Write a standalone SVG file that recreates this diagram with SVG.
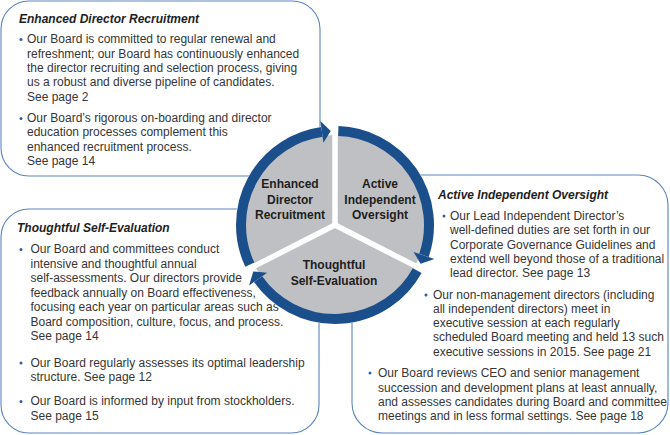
<svg xmlns="http://www.w3.org/2000/svg" width="670" height="435" viewBox="0 0 670 435">
<style>
.box{fill:#fff;stroke:#5a85bd;stroke-width:1.1}
.t{font-family:"Liberation Sans",Arial,sans-serif;font-size:12px;fill:#353535}
.h{font-family:"Liberation Sans",Arial,sans-serif;font-size:12px;font-weight:bold;font-style:italic;fill:#1e1e1e}
.c{font-family:"Liberation Sans",Arial,sans-serif;font-size:12px;font-weight:bold;fill:#1e1e1e;text-anchor:middle}
.b{fill:#2d5fa3}
.ring{fill:none;stroke:#1b4f8c;stroke-width:10}
.head{fill:#1b4f8c}
.gap{stroke:#fff;stroke-width:5.5;stroke-linecap:butt}
</style>
<rect width="670" height="435" fill="#fff"/>
<g id="box-recruitment">
<rect class="box" x="1" y="1" width="319" height="175" rx="28"/>
<text class="h" x="19" y="23">Enhanced Director Recruitment</text>
<circle class="b" cx="21" cy="39.5" r="1.5"/>
<text class="t" x="27" y="43">Our Board is committed to regular renewal and</text>
<text class="t" x="27" y="57.5">refreshment; our Board has continuously enhanced</text>
<text class="t" x="27" y="72">the director recruiting and selection process, giving</text>
<text class="t" x="27" y="86">us a robust and diverse pipeline of candidates.</text>
<text class="t" x="27" y="100.5">See page 2</text>
<circle class="b" cx="21" cy="118.5" r="1.5"/>
<text class="t" x="27" y="122">Our Board’s rigorous on-boarding and director</text>
<text class="t" x="27" y="136">education processes complement this</text>
<text class="t" x="27" y="150.5">enhanced recruitment process.</text>
<text class="t" x="27" y="165">See page 14</text>
</g>
<g id="box-evaluation">
<rect class="box" x="1" y="209" width="318" height="224" rx="28"/>
<text class="h" x="17" y="232">Thoughtful Self-Evaluation</text>
<circle class="b" cx="21" cy="249.5" r="1.5"/>
<text class="t" x="30.5" y="253">Our Board and committees conduct</text>
<text class="t" x="30.5" y="267.5">intensive and thoughtful annual</text>
<text class="t" x="30.5" y="282">self-assessments. Our directors provide</text>
<text class="t" x="30.5" y="296.5">feedback annually on Board effectiveness,</text>
<text class="t" x="30.5" y="311">focusing each year on particular areas such as</text>
<text class="t" x="30.5" y="325.5">Board composition, culture, focus, and process.</text>
<text class="t" x="30.5" y="340">See page 14</text>
<circle class="b" cx="21" cy="363" r="1.5"/>
<text class="t" x="30.5" y="366.5">Our Board regularly assesses its optimal leadership</text>
<text class="t" x="30.5" y="381">structure. See page 12</text>
<circle class="b" cx="21" cy="401.5" r="1.5"/>
<text class="t" x="30.5" y="405">Our Board is informed by input from stockholders.</text>
<text class="t" x="30.5" y="420">See page 15</text>
</g>
<g id="box-oversight">
<rect class="box" x="352" y="175" width="316" height="258" rx="30"/>
<text class="h" x="438" y="198.5">Active Independent Oversight</text>
<circle class="b" cx="444" cy="216" r="1.5"/>
<text class="t" x="450" y="219.5">Our Lead Independent Director’s</text>
<text class="t" x="450" y="234">well-defined duties are set forth in our</text>
<text class="t" x="450" y="248.5">Corporate Governance Guidelines and</text>
<text class="t" x="450" y="262.7">extend well beyond those of a traditional</text>
<text class="t" x="450" y="277">lead director. See page 13</text>
<circle class="b" cx="426" cy="295" r="1.5"/>
<text class="t" x="433" y="298.5">Our non-management directors (including</text>
<text class="t" x="433" y="312.7">all independent directors) meet in</text>
<text class="t" x="433" y="327">executive session at each regularly</text>
<text class="t" x="433" y="341">scheduled Board meeting and held 13 such</text>
<text class="t" x="433" y="355.7">executive sessions in 2015. See page 21</text>
<circle class="b" cx="370" cy="373" r="1.5"/>
<text class="t" x="378" y="376.7">Our Board reviews CEO and senior management</text>
<text class="t" x="378" y="391.5">succession and development plans at least annually,</text>
<text class="t" x="378" y="405.5">and assesses candidates during Board and committee</text>
<text class="t" x="378" y="419.5">meetings and in less formal settings. See page 18</text>
</g>
<g id="cycle">
<circle cx="335" cy="225" r="99.5" fill="#fff"/>
<circle cx="335" cy="225" r="90" fill="#bfc0c3"/>
<line class="gap" x1="335" y1="225" x2="335" y2="120"/>
<line class="gap" x1="335" y1="225" x2="429" y2="272.9"/>
<line class="gap" x1="335" y1="225" x2="241" y2="272.9"/>
<g id="connectors">
<path class="ring" d="M249.81,264.72 A94,94 0 0 1 321.92,131.91"/>
<polygon class="head" points="320.38,121.02 330.74,131.10 323.45,142.81"/>
<path class="ring" d="M338.28,131.06 A94,94 0 0 1 423.93,255.45"/>
<polygon class="head" points="434.34,259.01 420.61,263.83 413.53,251.88"/>
<path class="ring" d="M417.21,270.57 A94,94 0 0 1 258.10,279.05"/>
<polygon class="head" points="267.10,272.73 253.27,271.43 249.10,285.38"/>
</g>
<g id="node-recruitment">
<text class="c" x="290" y="188.3">Enhanced</text>
<text class="c" x="290" y="203.5">Director</text>
<text class="c" x="290" y="219">Recruitment</text>
</g>
<g id="node-oversight">
<text class="c" x="380" y="188.3">Active</text>
<text class="c" x="380" y="203.5">Independent</text>
<text class="c" x="380" y="219">Oversight</text>
</g>
<g id="node-evaluation">
<text class="c" x="334" y="269.3">Thoughtful</text>
<text class="c" x="334" y="285">Self-Evaluation</text>
</g>
</g>
</svg>
